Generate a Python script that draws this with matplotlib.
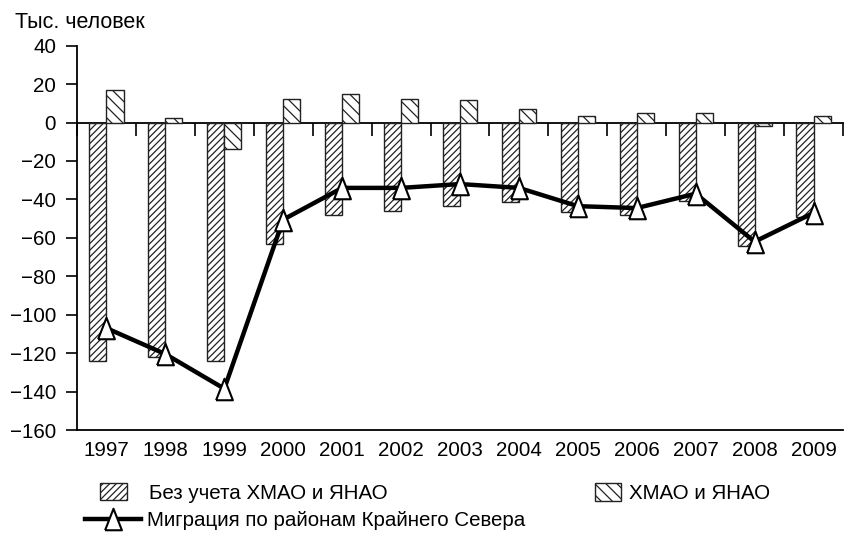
import matplotlib
matplotlib.use("Agg")
import matplotlib.pyplot as plt
import numpy as np

years = ["1997", "1998", "1999", "2000", "2001", "2002", "2003", "2004",
         "2005", "2006", "2007", "2008", "2009"]
bez_hmao = [-124, -122, -124, -63, -48, -46, -43.5, -41.5, -46.5, -48, -41, -64, -49]
hmao_yanao = [17, 2.5, -14, 12.5, 15, 12.5, 11.5, 7, 3.5, 5, 5, -2, 3.5]
migration = [-107, -120.5, -138.5, -50.5, -34, -34, -32, -34, -43.5, -44.5, -37, -62, -47]
yticks = [40, 20, 0, -20, -40, -60, -80, -100, -120, -140, -160]

label_bez = "Без учета ХМАО и ЯНАО"
label_hmao = "ХМАО и ЯНАО"
label_mig = "Миграция по районам Крайнего Севера"
ylabel = "Тыс. человек"

plt.rcParams['font.family'] = ['Liberation Sans', 'DejaVu Sans']
plt.rcParams['hatch.linewidth'] = 0.9
plt.rcParams['hatch.color'] = 'black'

W, H = 847, 534
fig = plt.figure(figsize=(W / 100, H / 100), dpi=100)
ax = fig.add_axes([77 / W, 1 - 430 / H, (843 - 77) / W, (430 - 45.7) / H])

x = np.arange(len(years))
w = 0.29
fs = 14.8
lfs = 14.8

b1 = ax.bar(x - w / 2, bez_hmao, w, facecolor='white', edgecolor='#222222',
            linewidth=1.0, hatch='/////', zorder=2)
b2 = ax.bar(x + w / 2, hmao_yanao, w, facecolor='white', edgecolor='#222222',
            linewidth=1.0, hatch='\\\\\\', zorder=2)

tri = [(-0.78, -1), (0.78, -1), (0, 1), (-0.78, -1)]
ln, = ax.plot(x, migration, color='black', linewidth=3.2, marker=tri,
              markersize=15.5, markerfacecolor='white', markeredgecolor='black',
              markeredgewidth=1.5, zorder=4)

ax.set_xlim(-0.5, len(years) - 0.5)
ax.set_ylim(-160, 40)
ax.set_yticks(yticks)
ax.tick_params(axis='y', direction='out', length=8, width=1.2, labelsize=fs, pad=7)
ax.set_xticks(x)
ax.set_xticklabels(years)
ax.tick_params(axis='x', length=0, labelsize=fs, pad=8)
for s in ['top', 'right']:
    ax.spines[s].set_visible(False)
ax.spines['left'].set_linewidth(1.3)
ax.spines['bottom'].set_linewidth(1.3)

# zero line with category boundary ticks
sec = ax.secondary_xaxis(160 / 200)
sec.set_xticks(np.arange(-0.5, len(years), 1.0))
sec.tick_params(axis='x', direction='out', length=9, width=1.2, labelbottom=False,
                labeltop=False, bottom=True, top=False)
sec.xaxis.set_ticks_position('bottom')
sec.set_xticklabels([])
sec.spines['bottom'].set_linewidth(1.3)
sec.spines['top'].set_linewidth(1.3)

fig.text(15 / W, 1 - 28 / H, ylabel, fontsize=15.5, ha='left', va='baseline')

common = dict(frameon=False, fontsize=lfs, borderpad=0, borderaxespad=0,
              loc='center left')
leg1 = fig.legend([b1], [label_bez], bbox_to_anchor=(100 / W, 1 - 493 / H),
                  handlelength=1.3, handleheight=0.9, handletextpad=1.1, **common)
leg2 = fig.legend([b2], [label_hmao], bbox_to_anchor=(595 / W, 1 - 493 / H),
                  handlelength=1.25, handleheight=0.95, handletextpad=0.4, **common)
leg3 = fig.legend([ln], [label_mig], bbox_to_anchor=(85 / W, 1 - 521 / H),
                  handlelength=2.7, handletextpad=0.3, **common)

fig.savefig("out.png", dpi=100)
